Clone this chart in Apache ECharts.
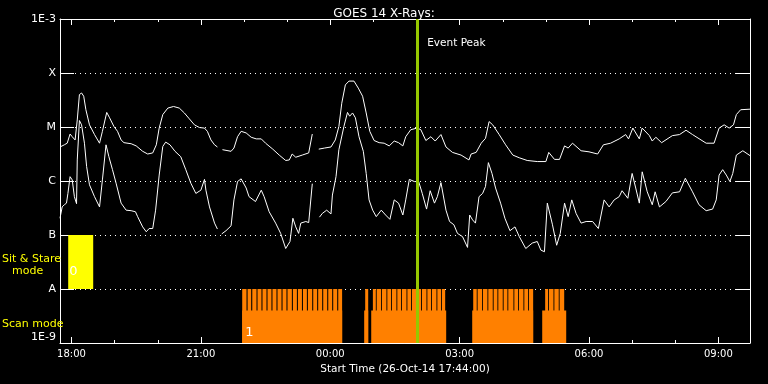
<!DOCTYPE html>
<html><head><meta charset="utf-8">
<script src="https://cdn.jsdelivr.net/npm/echarts@6/dist/echarts.min.js"></script>
<style>html,body{margin:0;padding:0;background:#000}#c{width:768px;height:384px}</style>
</head><body><div id="c"></div>
<script>
// Time is in minutes after the start time (26-Oct-14 17:44:00); flux as log10(W/m^2)
const startLabel = '26-Oct-14 17:44:00';
const spanMinutes = 960;
const majorTickMinutes = [16, 196, 376, 556, 736, 916];
const majorTickLabels = ['18:00', '21:00', '00:00', '03:00', '06:00', '09:00'];
const minorTickMinutes = [16, 76, 136, 196, 256, 316, 376, 436, 496, 556, 616, 676, 736, 796, 856, 916];
const yTickLabels = { '-9': '1E-9', '-8': 'A', '-7': 'B', '-6': 'C', '-5': 'M', '-4': 'X', '-3': '1E-3' };
const eventPeakMinute = 497;

// 1-8 A channel (upper curve), log10 flux; null = data gap
const longLog = [[0,-5.37],[6,-5.33],[10,-5.30],[14,-5.13],[17,-5.18],[21,-5.24],[24,-4.87],[27,-4.40],[30,-4.37],[33,-4.43],[36,-4.68],[41,-4.96],[48,-5.14],[55,-5.30],[59,-5.08],[65,-4.73],[69,-4.83],[75,-4.99],[80,-5.08],[85,-5.24],[89,-5.29],[99,-5.31],[106,-5.35],[115,-5.45],[122,-5.50],[129,-5.48],[134,-5.33],[138,-5.02],[143,-4.77],[150,-4.65],[158,-4.62],[166,-4.65],[173,-4.74],[180,-4.85],[187,-4.96],[194,-5.01],[201,-5.02],[205,-5.08],[210,-5.24],[215,-5.33],[219,-5.37],[222,null],[226,-5.42],[238,-5.45],[242,-5.39],[247,-5.18],[252,-5.08],[259,-5.11],[266,-5.19],[273,-5.22],[280,-5.22],[286,-5.30],[296,-5.41],[305,-5.52],[314,-5.62],[319,-5.61],[323,-5.50],[328,-5.56],[337,-5.52],[346,-5.48],[351,-5.13],[355,null],[360,-5.41],[368,-5.39],[377,-5.37],[383,-5.24],[388,-4.99],[392,-4.56],[397,-4.22],[402,-4.15],[409,-4.15],[415,-4.28],[421,-4.43],[426,-4.74],[431,-5.08],[437,-5.25],[444,-5.29],[451,-5.30],[458,-5.35],[465,-5.26],[471,-5.29],[477,-5.35],[481,-5.18],[488,-5.05],[497,-5.02],[502,-5.05],[509,-5.25],[516,-5.18],[522,-5.26],[530,-5.14],[537,-5.37],[546,-5.47],[558,-5.52],[569,-5.61],[572,-5.50],[579,-5.47],[586,-5.30],[592,-5.21],[597,-4.90],[602,-4.96],[611,-5.14],[620,-5.33],[630,-5.52],[639,-5.57],[650,-5.62],[664,-5.64],[676,-5.64],[680,-5.47],[688,-5.60],[695,-5.60],[702,-5.35],[707,-5.39],[713,-5.30],[725,-5.44],[736,-5.46],[748,-5.50],[756,-5.33],[766,-5.30],[778,-5.22],[787,-5.14],[791,-5.22],[797,-5.02],[806,-5.22],[810,-5.02],[820,-5.16],[824,-5.26],[829,-5.19],[837,-5.29],[852,-5.16],[862,-5.14],[871,-5.06],[880,-5.14],[899,-5.30],[910,-5.30],[917,-5.02],[924,-4.96],[931,-5.02],[937,-4.96],[941,-4.77],[947,-4.68],[960,-4.67]];

// 0.5-4 A channel (lower curve), log10 flux; null = data gap
const shortLog = [[0,-6.69],[3,-6.48],[6,-6.44],[9,-6.41],[11,-6.23],[14,-5.92],[17,-5.98],[20,-6.29],[23,-6.42],[24,-5.61],[27,-4.88],[30,-4.96],[34,-5.30],[37,-5.73],[41,-6.07],[48,-6.29],[55,-6.48],[59,-5.98],[64,-5.33],[68,-5.55],[73,-5.79],[78,-6.04],[85,-6.41],[92,-6.54],[99,-6.55],[105,-6.57],[108,-6.66],[115,-6.85],[120,-6.94],[124,-6.88],[129,-6.88],[133,-6.54],[138,-5.89],[143,-5.36],[147,-5.28],[153,-5.33],[160,-5.45],[168,-5.55],[175,-5.79],[182,-6.04],[189,-6.23],[196,-6.17],[201,-5.97],[203,-6.17],[208,-6.48],[215,-6.78],[219,-6.89],[222,null],[225,-6.98],[231,-6.92],[238,-6.83],[242,-6.35],[247,-6.01],[252,-5.96],[259,-6.13],[263,-6.29],[272,-6.38],[280,-6.17],[284,-6.29],[291,-6.57],[300,-6.78],[307,-6.97],[314,-7.25],[320,-7.12],[324,-6.69],[328,-6.85],[332,-6.97],[335,-6.78],[342,-6.75],[346,-6.77],[351,-6.05],[355,null],[361,-6.67],[365,-6.60],[371,-6.54],[377,-6.61],[379,-6.26],[384,-5.92],[388,-5.42],[395,-4.99],[400,-4.73],[403,-4.80],[407,-4.74],[411,-4.83],[416,-5.18],[422,-5.45],[426,-5.86],[430,-6.35],[435,-6.54],[440,-6.66],[447,-6.54],[453,-6.63],[459,-6.71],[465,-6.35],[471,-6.41],[477,-6.63],[481,-6.35],[486,-5.97],[493,-6.01],[499,-6.01],[504,-6.23],[510,-6.52],[515,-6.18],[521,-6.41],[525,-6.29],[530,-6.03],[537,-6.54],[542,-6.75],[548,-6.81],[553,-6.97],[560,-7.03],[567,-7.23],[570,-6.63],[574,-6.72],[578,-6.78],[583,-6.29],[588,-6.23],[592,-6.10],[596,-5.66],[601,-5.86],[606,-6.13],[613,-6.41],[619,-6.69],[626,-6.92],[633,-6.85],[639,-7.03],[648,-7.25],[657,-7.15],[664,-7.12],[669,-7.28],[674,-7.31],[678,-6.41],[685,-6.80],[691,-7.19],[696,-6.97],[702,-6.41],[707,-6.66],[712,-6.35],[718,-6.60],[725,-6.78],[732,-6.75],[741,-6.75],[749,-6.88],[757,-6.35],[764,-6.48],[771,-6.35],[778,-6.29],[782,-6.18],[790,-6.32],[796,-5.86],[801,-6.13],[806,-6.41],[810,-5.83],[817,-6.20],[824,-6.44],[828,-6.20],[834,-6.48],[843,-6.38],[852,-6.22],[862,-6.20],[870,-5.95],[880,-6.20],[889,-6.44],[899,-6.55],[908,-6.52],[913,-6.35],[917,-5.89],[922,-5.79],[927,-5.89],[932,-6.01],[936,-5.86],[941,-5.52],[950,-5.44],[960,-5.53]];

// Observing modes: [start minute, end minute]
const sitStareBlocks = [[11.4, 46.2]];
const scanBaseBlocks = [[253.5,392.6],[423.2,428.8],[433,537.3],[573.5,658.3],[670.9,704.3]];
const scanFrames = [[253.5,259.5],[261,266],[267.5,273.4],[274.8,280.3],[281.7,287.3],[288.7,294.2],[295.6,301.2],[302.6,308.2],[309.6,315.1],[316.5,322.6],[324,329.6],[331,336.6],[338,343.5],[344.9,350.9],[352.3,357.8],[359.2,364.8],[366.2,371.8],[373.2,378.7],[380.1,385.7],[387.1,392.5],
[424.6,428.8],
[435.3,439.4],[440.6,446.7],[447.9,454.2],[455.4,460.6],[461.8,468.1],[469.3,474.5],[475.7,482.1],[483.3,488.4],[489.6,495.9],[497.1,502.3],[503.5,509.9],[511.1,516.3],[517.5,523.8],[525,530.2],[531.4,535.9],
[574.9,579.8],[581,587.2],[588.4,594.7],[595.9,602.1],[603.3,608.6],[609.8,616],[617.2,622.5],[623.7,630.9],[632.1,637.3],[638.5,644.8],[646,651.2],[652.4,658.3],
[675,679],[680.2,686.6],[687.8,693.9],[695.1,701.5]];
// flux levels bounding the mode blocks
const sitStareRange = [1e-7, 1e-8];
const scanFrameRange = [1e-8, 1e-9];
const scanBaseRange = [4e-9, 1e-9];

const FONT = 'DejaVu Sans';
const toFlux = v => (v == null ? '-' : Math.pow(10, v));
const longData = longLog.map(([t, v]) => [t, toFlux(v)]);
const shortData = shortLog.map(([t, v]) => [t, toFlux(v)]);
const blockData = (blocks, range) => blocks.map(b => [b[0], b[1], range[0], range[1]]);

function rectRender(color) {
  return function (params, api) {
    const p0 = api.coord([api.value(0), api.value(2)]);
    const p1 = api.coord([api.value(1), api.value(3)]);
    return { type: 'rect', shape: { x: p0[0], y: p0[1], width: p1[0] - p0[0], height: p1[1] - p0[1] }, style: { fill: color } };
  };
}

const chart = echarts.init(document.getElementById('c'));
const white = { color: '#fff', width: 1 };
const baseX = { type: 'value', min: 0, max: spanMinutes, splitLine: { show: false }, axisLabel: { show: false }, axisLine: { show: false, onZero: false } };
const option = {
  animation: false,
  backgroundColor: '#000',
  title: { text: 'GOES 14 X-Rays:', left: 'center', top: 3, textStyle: { color: '#fff', fontSize: 12, fontWeight: 'normal', fontFamily: FONT } },
  grid: { left: 60, right: 18, top: 19, bottom: 41, containLabel: false, outerBoundsMode: 'none' },
  xAxis: [
    { type: 'value', min: 0, max: spanMinutes, position: 'bottom',
      name: 'Start Time (' + startLabel + ')', nameLocation: 'middle', nameGap: 19,
      nameTextStyle: { color: '#fff', fontSize: 10.5, fontFamily: FONT },
      axisLine: { show: true, onZero: false, lineStyle: white },
      axisTick: { show: true, inside: true, length: 6, customValues: majorTickMinutes, lineStyle: white },
      axisLabel: { show: true, customValues: majorTickMinutes, margin: 6, color: '#fff', fontSize: 10, fontFamily: FONT,
        formatter: v => majorTickLabels[majorTickMinutes.indexOf(Math.round(v))] || '' },
      splitLine: { show: false } },
    Object.assign({}, baseX, { position: 'bottom', axisTick: { show: true, inside: true, length: 3, customValues: minorTickMinutes, lineStyle: white } }),
    Object.assign({}, baseX, { position: 'top', axisLine: { show: true, onZero: false, lineStyle: white }, axisTick: { show: true, inside: true, length: 6, customValues: majorTickMinutes, lineStyle: white } }),
    Object.assign({}, baseX, { position: 'top', axisTick: { show: true, inside: true, length: 3, customValues: minorTickMinutes, lineStyle: white } })
  ],
  yAxis: [
    { type: 'log', logBase: 10, min: 1e-9, max: 1e-3, position: 'left',
      axisLine: { show: true, onZero: false, lineStyle: white },
      axisTick: { show: true, inside: true, length: 14, lineStyle: white },
      minorTick: { show: false },
      axisLabel: { show: true, margin: 4, color: '#fff', fontSize: 11, fontFamily: FONT,
        verticalAlignMinLabel: 'bottom', verticalAlignMaxLabel: 'top',
        formatter: v => yTickLabels[String(Math.round(Math.log10(v)))] || '' },
      splitLine: { show: true, lineStyle: { color: '#fff', width: 1, type: [1, 4] } } },
    { type: 'log', logBase: 10, min: 1e-9, max: 1e-3, position: 'right',
      axisLine: { show: true, onZero: false, lineStyle: white },
      axisTick: { show: true, inside: true, length: 14, lineStyle: white },
      axisLabel: { show: false }, splitLine: { show: false } }
  ],
  series: [
    { type: 'custom', name: 'Sit & Stare', renderItem: rectRender('#ffff00'), data: blockData(sitStareBlocks, sitStareRange), encode: { x: [0, 1], y: [2, 3] }, z: 1 },
    { type: 'custom', name: 'Scan base', renderItem: rectRender('#ff8000'), data: blockData(scanBaseBlocks, scanBaseRange), encode: { x: [0, 1], y: [2, 3] }, z: 1 },
    { type: 'custom', name: 'Scan frames', renderItem: rectRender('#ff8000'), data: blockData(scanFrames, scanFrameRange), encode: { x: [0, 1], y: [2, 3] }, z: 1 },
    { type: 'line', name: '1-8 A', data: longData, showSymbol: false, symbol: 'none', connectNulls: false, lineStyle: { color: '#fff', width: 1 }, z: 3 },
    { type: 'line', name: '0.5-4 A', data: shortData, showSymbol: false, symbol: 'none', connectNulls: false, lineStyle: { color: '#fff', width: 1 }, z: 3,
      markLine: { symbol: 'none', silent: true, label: { show: false }, lineStyle: { color: '#96c800', width: 3, type: 'solid' }, data: [{ xAxis: eventPeakMinute }] } }
  ]
};
chart.setOption(option);

const px = m => chart.convertToPixel({ xAxisIndex: 0 }, m);
const py = f => chart.convertToPixel({ yAxisIndex: 0 }, f);
const txt = (text, x, y, color, size, align) => ({ type: 'text', x: x, y: y, silent: true, z: 10,
  style: { text: text, fill: color, fontSize: size, fontFamily: FONT, align: align || 'left', verticalAlign: 'middle' } });
chart.setOption({
  graphic: [
    txt('Sit & Stare', 2, py(Math.pow(10, -7.45)), '#ffff00', 11),
    txt('mode', 12, py(Math.pow(10, -7.45)) + 12, '#ffff00', 11),
    txt('Scan mode', 2, py(Math.pow(10, -8.65)), '#ffff00', 11),
    txt('0', px(sitStareBlocks[0][0]) + 1, py(sitStareRange[1]) - 17, '#ffffff', 13),
    txt('1', px(scanBaseBlocks[0][0]) + 3, py(scanBaseRange[1]) - 10, '#ffffff', 13),
    txt('Event Peak', px(eventPeakMinute) + 10, py(1e-3) + 24, '#ffffff', 10.5)
  ]
});
</script></body></html>
